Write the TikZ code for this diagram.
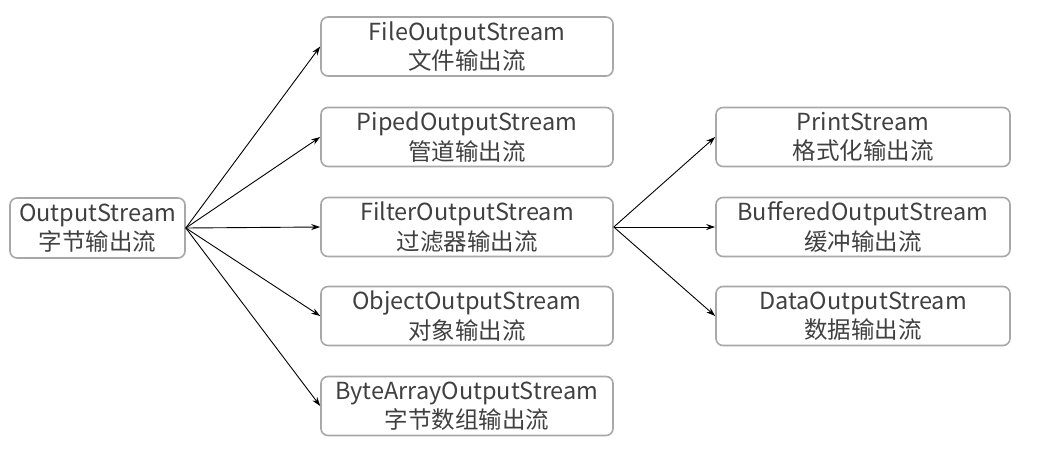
\documentclass[tikz,border=0pt]{standalone}
\usepackage{fontspec}
\setmainfont{Noto Sans CJK SC}
\usetikzlibrary{arrows.meta}
\definecolor{boxline}{HTML}{A8A8A8}
\definecolor{txt}{HTML}{404040}
\begin{document}
\begin{tikzpicture}[x=1pt,y=-1pt,
  box/.style={draw=boxline,line width=1.6pt,rounded corners=7pt,align=center,
    text=txt,font=\fontsize{23.5}{29.5}\selectfont,inner sep=0pt},
  leftbox/.style={box,minimum width=175pt,minimum height=60pt},
  midbox/.style={box,minimum width=292pt,minimum height=59pt},
  rightbox/.style={box,minimum width=294pt,minimum height=59pt},
  conn/.style={-{Stealth[length=9pt,width=6pt]},line width=0.9pt,black}]
\useasboundingbox (0,0) rectangle (1045,466);
\node[leftbox] (os) at (97.5,228) {OutputStream\\字节输出流};
\node[midbox] (fos) at (467,46.5) {FileOutputStream\\文件输出流};
\node[midbox] (pos) at (467,137) {PipedOutputStream\\管道输出流};
\node[midbox] (flos) at (467,227) {FilterOutputStream\\过滤器输出流};
\node[midbox] (oos) at (467,316) {ObjectOutputStream\\对象输出流};
\node[midbox] (baos) at (467,406) {ByteArrayOutputStream\\字节数组输出流};
\node[rightbox] (ps) at (863,137) {PrintStream\\格式化输出流};
\node[rightbox] (bos) at (863,227) {BufferedOutputStream\\缓冲输出流};
\node[rightbox] (dos) at (863,316) {DataOutputStream\\数据输出流};
\foreach \t in {fos,pos,flos,oos,baos} \draw[conn] (os.east) -- (\t.west);
\foreach \t in {ps,bos,dos} \draw[conn] (flos.east) -- (\t.west);
\end{tikzpicture}
\end{document}
